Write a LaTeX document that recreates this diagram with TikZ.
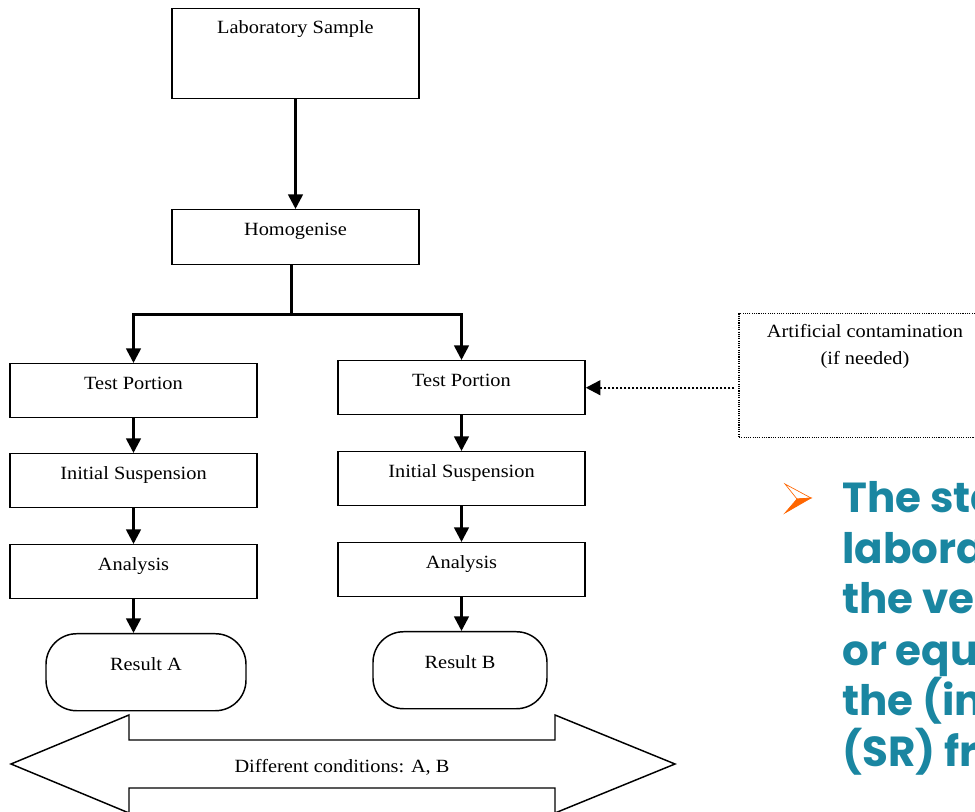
\documentclass[tikz,border=0pt]{standalone}
\usepackage{fontspec}
\setmainfont{Liberation Serif}[FakeStretch=1.09]
\newfontfamily\blfont{Poppins}
\usetikzlibrary{arrows.meta,calc}
\definecolor{tealblue}{RGB}{26,134,161}
\definecolor{bulorange}{RGB}{255,102,0}
\begin{document}
\begin{tikzpicture}[x=0.75pt,y=-0.75pt,
  box/.style={draw,line width=1.1pt,inner xsep=0pt,inner ysep=0pt,anchor=north,
    minimum width=185.25pt,align=center,font=\fontsize{14}{17}\selectfont},
  smallbox/.style={box,text height=19.5pt,text depth=21pt},
  resbox/.style={box,rounded corners=23pt,text height=27.75pt,text depth=30pt},
  conn/.style={line width=2pt},
  arr/.style={conn,-{Triangle[width=11pt,length=11pt]}},
  bl/.style={anchor=base west,inner sep=0pt,text=tealblue,
    font=\blfont\bfseries\fontsize{31.5}{38}\selectfont},
]
\useasboundingbox (0,0) rectangle (975,812);
\clip (0,0) rectangle (975,812);
\fill[white] (0,0) rectangle (975,812);

% boxes
\node[box,text height=18.75pt,text depth=48.75pt] (lab) at (295.5,8) {Laboratory Sample};
\node[box,text height=19.5pt,text depth=21.75pt] (hom) at (295.5,209) {Homogenise};
\node[smallbox] (ltp) at (133.5,363) {Test Portion};
\node[smallbox] (lis) at (133.5,453) {Initial Suspension};
\node[smallbox] (lan) at (133.5,544) {Analysis};
\node[smallbox] (rtp) at (461.5,360) {Test Portion};
\node[smallbox] (ris) at (461.5,451) {Initial Suspension};
\node[smallbox] (ran) at (461.5,542) {Analysis};
\node[resbox,minimum width=150pt] (ra) at (146,633) {Result A};
\node[resbox,minimum width=130.5pt] (rb) at (460,631) {Result B};
\node[draw,line width=0.8pt,dash pattern=on 0.8pt off 0.9pt,anchor=north,minimum width=189pt,
  inner sep=0pt,align=center,text height=38.25pt,text depth=54.75pt,
  font=\fontsize{14}{20.25}\selectfont] (cont) at (865,313) {Artificial contamination\\(if needed)};

% connectors
\draw[arr] (lab.south) -- (hom.north);
\draw[conn] ($(hom.south)+(-4,0)$) coordinate (hs) -- ++(0,49) coordinate (split);
\draw[arr] (split) -| (ltp.north);
\draw[arr] (split) -| (rtp.north);
\draw[arr] (ltp.south) -- (lis.north);
\draw[arr] (lis.south) -- (lan.north);
\draw[arr] (lan.south) -- (lan.south |- ra.north);
\draw[arr] (rtp.south) -- (ris.north);
\draw[arr] (ris.south) -- (ran.north);
\draw[arr] (ran.south) -- (ran.south |- rb.north);
\coordinate (cstart) at ($(cont.west |- rtp.east)+(-4,0)$);
\draw[arr,line width=1.8pt,dash pattern=on 1.5pt off 1.5pt] (cstart) -- (rtp.east);

% double arrow
\draw[line width=1.1pt,fill=white,line join=miter] (11,764) -- (129,715) -- (129,740) -- (555,740)
  -- (555,715) -- (675,764) -- (555,813) -- (555,788) -- (129,788) -- (129,813) -- cycle;
\node[anchor=base,inner sep=0pt,font=\fontsize{14}{17}\selectfont] (diff) at (342,772) {Different conditions: A, B};

% bullet
\filldraw[bulorange,line width=0.5pt,line join=miter] (797,499) -- (811,498) -- (785,513) -- cycle;
\draw[bulorange,line width=0.5pt,line join=miter] (785,484) -- (811,498) -- (797,499) -- cycle;

% blue text
\node[bl] (t1) at (842,513) {The sta};
\node[bl] (t2) at (842,564) {labora};
\node[bl] (t3) at (842,614) {the ver};
\node[bl] (t4) at (842,665) {or equ};
\node[bl] (t5) at (842,715) {the (int};
\node[bl] (t6) at (842,766) {(SR) fro};
\end{tikzpicture}
\end{document}
